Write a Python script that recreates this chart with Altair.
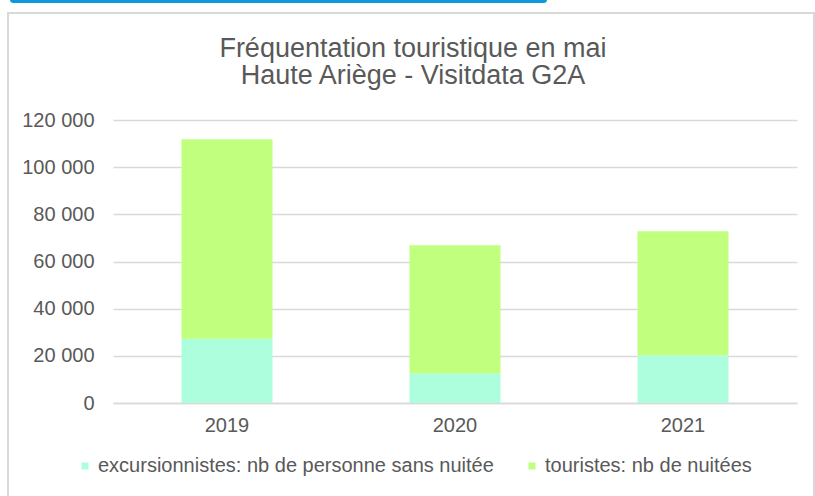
import altair as alt
import pandas as pd

years = ["2019", "2020", "2021"]
excursionnistes = [27200, 12500, 20200]
touristes = [84600, 54400, 52650]
series = ["excursionnistes: nb de personne sans nuitée", "touristes: nb de nuitées"]
colors = ["#adfedc", "#c1ff7e"]
title_lines = ["Fréquentation touristique en mai", "Haute Ariège - Visitdata G2A"]

rows = []
for i, y in enumerate(years):
    rows.append({"annee": y, "serie": series[0], "valeur": excursionnistes[i], "ordre": 0})
    rows.append({"annee": y, "serie": series[1], "valeur": touristes[i], "ordre": 1})
df = pd.DataFrame(rows)

FONT = "Liberation Sans"
GRAY = "#595959"

bars = alt.Chart(df).mark_bar(width=91).encode(
    x=alt.X("annee:N", title=None, scale=alt.Scale(paddingInner=0.6, paddingOuter=0.3),
            axis=alt.Axis(labelAngle=0, labelFontSize=20, labelColor=GRAY, labelFont=FONT,
                          ticks=False, domainColor="#d9d9d9", domainWidth=1.5, labelPadding=12)),
    y=alt.Y("valeur:Q", title=None, stack="zero",
            scale=alt.Scale(domain=[0, 120000], nice=False),
            axis=alt.Axis(values=[0, 20000, 40000, 60000, 80000, 100000, 120000],
                          labelExpr="replace(format(datum.value, ','), ',', ' ')",
                          labelFontSize=20, labelColor=GRAY, labelFont=FONT,
                          ticks=False, domain=False, gridColor="#d9d9d9", gridWidth=1.5,
                          labelPadding=19)),
    color=alt.Color("serie:N", scale=alt.Scale(domain=series, range=colors),
                    legend=alt.Legend(title=None, orient="none", legendX=-38, legendY=336,
                                      direction="horizontal", symbolType="square", symbolSize=49,
                                      symbolStrokeWidth=0, labelFontSize=20, labelColor=GRAY,
                                      labelFont=FONT, columnPadding=28, symbolOffset=0,
                                      labelOffset=3, labelLimit=500)),
    order=alt.Order("ordre:Q"),
)

deco = pd.DataFrame({"k": [0]})
frame = alt.Chart(deco).mark_rect(fill=None, stroke="#d9d9d9", strokeWidth=2).encode(
    x=alt.value(-105), x2=alt.value(701), y=alt.value(-107), y2=alt.value(400)
)
blue = alt.Chart(deco).mark_rect(fill="#0f98da", cornerRadius=3).encode(
    x=alt.value(-103), x2=alt.value(434), y=alt.value(-126), y2=alt.value(-117)
)

tdf = pd.DataFrame({"t": title_lines, "ypos": [-63.3, -35.7]})
title = alt.Chart(tdf).mark_text(font=FONT, fontSize=27, color=GRAY, align="center",
                                 baseline="alphabetic").encode(
    text="t:N", x=alt.value(300), y=alt.Y("ypos:Q", scale=None)
)

chart = alt.layer(frame, blue, title, bars).properties(
    width=684, height=283,
    autosize=alt.AutoSizeParams(type="none"),
    padding={"left": 113, "top": 120, "right": 18, "bottom": 93},
).configure(background="white", view=alt.ViewConfig(stroke=None))

chart.save("out.html", embed_options={"renderer": "svg", "actions": False})
